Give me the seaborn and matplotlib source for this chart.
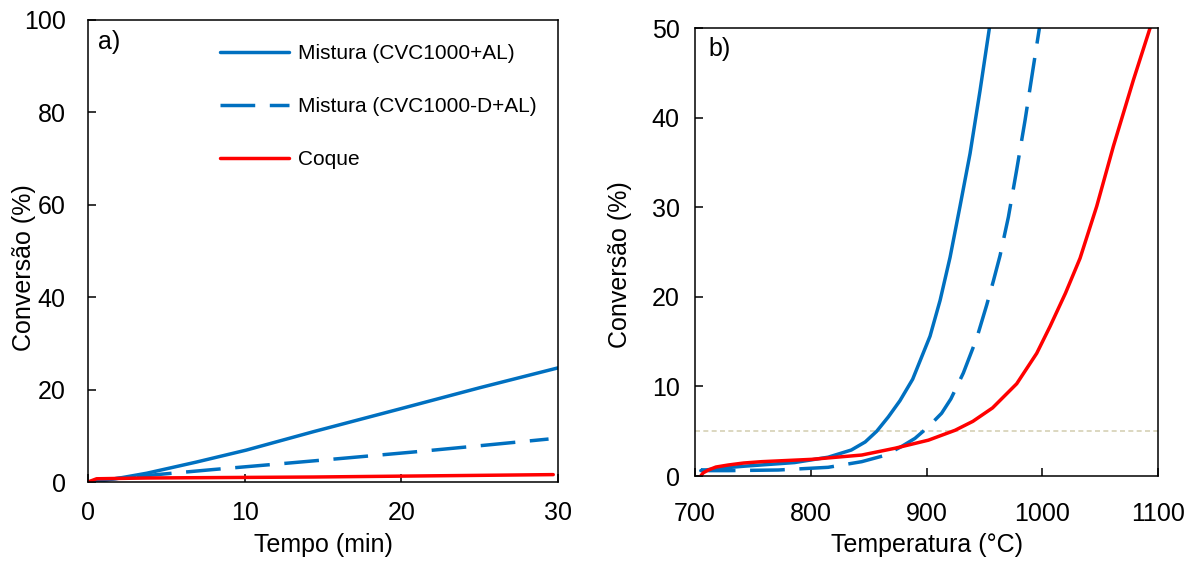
import matplotlib
matplotlib.use("Agg")
import matplotlib.pyplot as plt
import seaborn as sns

# ---------------- data ----------------
series_names = ["Mistura (CVC1000+AL)", "Mistura (CVC1000-D+AL)", "Coque"]

# a) conversion vs time (min)
tempo_al = [0.0, 0.5, 1.0, 2.0, 3.75, 6.9, 10.1, 14.4, 20.0, 25.0, 30.0]
conv_tempo_al = [0.0, 0.15, 0.35, 0.85, 1.9, 4.3, 6.9, 10.9, 15.9, 20.4, 24.7]

tempo_dal = [0.0, 0.77, 3.75, 8.0, 12.3, 16.5, 20.8, 25.0, 29.4]
conv_tempo_dal = [0.0, 0.4, 1.4, 2.7, 3.95, 5.2, 6.5, 7.85, 9.3]

tempo_coque = [0.0, 0.55, 3.75, 14.4, 29.7]
conv_tempo_coque = [0.0, 0.7, 0.87, 1.08, 1.6]

# b) conversion vs temperature (°C)
temp_al = [705, 720, 743, 786, 815, 835, 847, 857, 867, 877, 888, 903,
           911.7, 920.3, 928.9, 937.6, 946.2, 954.3]
conv_temp_al = [0.6, 0.85, 1.1, 1.5, 2.1, 2.9, 3.8, 5.0, 6.6, 8.4, 10.8, 15.6,
                19.6, 24.4, 30.1, 36.0, 43.0, 50.0]

temp_dal = [705, 712, 728.8, 772, 815, 844, 864, 878.5, 890, 901.6, 913, 921,
            931.8, 943.4, 952, 957.8, 963.5, 970.7, 977.9, 985.1, 992.3, 997.5]
conv_temp_dal = [0.7, 0.6, 0.6, 0.67, 0.97, 1.6, 2.3, 3.3, 4.2, 5.5, 7.0, 8.6,
                 11.5, 15.4, 19.1, 21.8, 24.6, 28.9, 34.2, 39.7, 45.7, 50.0]

temp_coque = [705, 707, 711.5, 718, 728.8, 742, 757.6, 800.8, 844, 872.8, 901.6,
              924.6, 940, 957, 977.9, 995.2, 1006.7, 1020, 1032.6, 1047, 1061.4,
              1078.7, 1093.1]
conv_temp_coque = [0.0, 0.35, 0.67, 1.0, 1.23, 1.45, 1.6, 1.86, 2.34, 3.1, 4.0,
                   5.1, 6.1, 7.6, 10.3, 13.7, 16.7, 20.4, 24.3, 30.1, 36.8,
                   44.2, 50.0]

limiar = 5  # horizontal reference level in b)

xticks_a = [0, 10, 20, 30]
yticks_a = [0, 20, 40, 60, 80, 100]
xticks_b = [700, 800, 900, 1000, 1100]
yticks_b = [0, 10, 20, 30, 40, 50]

# ---------------- style ----------------
sns.set_theme(style="ticks")
plt.rcParams["font.family"] = ["Liberation Sans", "DejaVu Sans"]
plt.rcParams["text.color"] = "black"
plt.rcParams["axes.labelcolor"] = "black"
plt.rcParams["xtick.color"] = "black"
plt.rcParams["ytick.color"] = "black"
plt.rcParams["legend.labelcolor"] = "black"

BLUE = "#0070C0"
RED = "#FF0000"
LW = 2.5
DASH = (0, (10, 4.2))
FS = 18

fig = plt.figure(figsize=(11.94, 5.66), dpi=100)
ax1 = fig.add_axes([0.0737, 0.1484, 0.3936, 0.8163])
ax2 = fig.add_axes([0.5821, 0.1590, 0.3878, 0.7915])

# ---------- panel a ----------
sns.lineplot(x=tempo_al, y=conv_tempo_al, ax=ax1, color=BLUE, lw=LW,
             label=series_names[0], sort=False, estimator=None)
sns.lineplot(x=tempo_dal, y=conv_tempo_dal, ax=ax1, color=BLUE, lw=LW,
             linestyle=DASH, label=series_names[1], sort=False, estimator=None)
sns.lineplot(x=tempo_coque, y=conv_tempo_coque, ax=ax1, color=RED, lw=LW,
             label=series_names[2], sort=False, estimator=None)

ax1.set_xlim(0, 30)
ax1.set_ylim(0, 100)
ax1.set_xticks(xticks_a)
ax1.set_yticks(yticks_a)
ax1.set_xlabel("Tempo (min)", fontsize=FS, color="black")
ax1.set_ylabel("Conversão (%)", fontsize=FS, color="black")
ax1.yaxis.set_label_coords(-0.11, 0.463)
ax1.xaxis.set_label_coords(0.5, -0.11)
ax1.tick_params(axis="x", direction="in", length=5.5, width=1.1, labelsize=FS, pad=14)
ax1.tick_params(axis="y", direction="in", length=5.5, width=1.1, labelsize=FS, pad=16)
ax1.text(0.021, 0.978, "a)", transform=ax1.transAxes, fontsize=FS, va="top",
         ha="left", color="black")
ax1.legend(loc="upper left", bbox_to_anchor=(0.281, 0.947), frameon=False,
           fontsize=15, handlelength=3.3, handletextpad=0.45,
           labelspacing=1.62, borderpad=0, borderaxespad=0, labelcolor="black")

# ---------- panel b ----------
ax2.axhline(limiar, color="#D6D1B5", lw=1.2, linestyle=(0, (3, 2)), zorder=1)
sns.lineplot(x=temp_al, y=conv_temp_al, ax=ax2, color=BLUE, lw=LW,
             sort=False, estimator=None)
sns.lineplot(x=temp_dal, y=conv_temp_dal, ax=ax2, color=BLUE, lw=LW,
             linestyle=DASH, sort=False, estimator=None)
sns.lineplot(x=temp_coque, y=conv_temp_coque, ax=ax2, color=RED, lw=LW,
             sort=False, estimator=None)

ax2.set_xlim(700, 1100)
ax2.set_ylim(0, 50)
ax2.set_xticks(xticks_b)
ax2.set_yticks(yticks_b)
ax2.set_xlabel("Temperatura (°C)", fontsize=FS, color="black")
ax2.set_ylabel("Conversão (%)", fontsize=FS, color="black")
ax2.yaxis.set_label_coords(-0.136, 0.471)
ax2.xaxis.set_label_coords(0.5, -0.127)
ax2.tick_params(axis="x", direction="in", length=5.5, width=1.1, labelsize=FS, pad=19)
ax2.tick_params(axis="y", direction="in", length=5.5, width=1.1, labelsize=FS, pad=11)
ax2.text(0.028, 0.98, "b)", transform=ax2.transAxes, fontsize=FS, va="top",
         ha="left", color="black")

for ax in (ax1, ax2):
    for s in ax.spines.values():
        s.set_visible(True)
        s.set_color("black")
        s.set_linewidth(1.1)
    ax.tick_params(colors="black", labelcolor="black")

fig.savefig("out.png", dpi=100)
